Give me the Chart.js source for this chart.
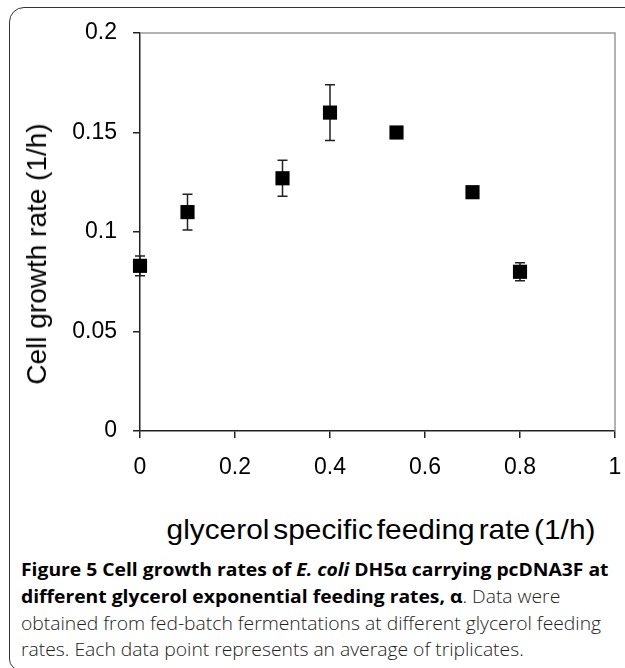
<!DOCTYPE html>
<html>
<head>
<meta charset="utf-8">
<script src="https://cdn.jsdelivr.net/npm/chart.js@4.4.1/dist/chart.umd.min.js"></script>
<style>
  html, body { margin: 0; padding: 0; background: #fff; }
  body { width: 625px; height: 668px; position: relative; overflow: hidden; }
  .frame {
    position: absolute; left: 9px; top: 7px; width: 700px; height: 664px;
    border: 1.5px solid #333; box-sizing: border-box;
    border-top-left-radius: 15px; border-bottom-left-radius: 12px;
  }
  #growth-chart { position: absolute; left: 0; top: 0; }
  .axis-title {
    position: absolute; font-family: 'Liberation Sans', Arial, sans-serif;
    font-size: 28px; line-height: 28px; color: #000; white-space: nowrap;
  }
  #y-title { left: 37px; top: 254px; transform: translate(-50%, -50%) rotate(-90deg); }
  #x-title { left: 381px; top: 516px; transform: translateX(-50%) scaleX(1.065); word-spacing: -4px; }
  .caption {
    position: absolute; left: 21px; top: 556px;
    font-family: 'Open Sans', sans-serif; font-size: 18px; line-height: 26.8px;
    color: #222; white-space: nowrap;
    transform: scaleX(1.072); transform-origin: 0 0;
  }
  .caption b { font-weight: 700; color: #000; }
  .caption .light { font-weight: 300; }
</style>
</head>
<body>
<div class="frame"></div>
<canvas id="growth-chart" width="625" height="500"></canvas>
<div class="axis-title" id="y-title">Cell growth rate (1/h)</div>
<div class="axis-title" id="x-title">glycerol specific feeding rate (1/h)</div>
<div class="caption">
  <b>Figure 5 Cell growth rates of <i>E. coli</i> DH5α carrying pcDNA3F at</b><br>
  <b>different glycerol exponential feeding rates, α</b><span class="light">. Data were</span><br>
  <span class="light">obtained from fed-batch fermentations at different glycerol feeding</span><br>
  <span class="light">rates. Each data point represents an average of triplicates.</span>
</div>
<script>
// glycerol specific feeding rate (1/h)
const feedRates = [0, 0.1, 0.3, 0.4, 0.54, 0.7, 0.8];
// cell growth rate (1/h) and error bar half-height
const growthRates = [0.083, 0.110, 0.127, 0.160, 0.150, 0.120, 0.080];
const growthErr = [0.005, 0.009, 0.009, 0.014, 0, 0, 0.0045];

const xTickLabels = ['0', '0.2', '0.4', '0.6', '0.8', '1'];
const yTickLabels = ['0', '0.05', '0.1', '0.15', '0.2'];

const AXIS_FONT = { family: "'Liberation Sans', Arial, sans-serif", size: 23 };

// error bars under the markers
const errorBars = {
  id: 'errorBars',
  beforeDatasetsDraw(chart) {
    const { ctx, scales: { x, y } } = chart;
    ctx.save();
    ctx.strokeStyle = '#222';
    ctx.lineWidth = 1.5;
    feedRates.forEach((fr, i) => {
      const e = growthErr[i];
      if (!e) return;
      const px = x.getPixelForValue(fr);
      const top = y.getPixelForValue(growthRates[i] + e);
      const bot = y.getPixelForValue(growthRates[i] - e);
      ctx.beginPath();
      ctx.moveTo(px, top); ctx.lineTo(px, bot);
      ctx.moveTo(px - 5, top); ctx.lineTo(px + 5, top);
      ctx.moveTo(px - 5, bot); ctx.lineTo(px + 5, bot);
      ctx.stroke();
    });
    ctx.restore();
  }
};

// grey top / right edge of the plot box
const plotBox = {
  id: 'plotBox',
  beforeDatasetsDraw(chart) {
    const { ctx, chartArea: a } = chart;
    ctx.save();
    ctx.strokeStyle = '#999';
    ctx.lineWidth = 1.5;
    ctx.beginPath();
    ctx.moveTo(a.left, a.top);
    ctx.lineTo(a.right, a.top);
    ctx.lineTo(a.right, a.bottom);
    ctx.stroke();
    ctx.restore();
  }
};

new Chart(document.getElementById('growth-chart'), {
  type: 'scatter',
  data: {
    datasets: [{
      data: feedRates.map((x, i) => ({ x, y: growthRates[i] })),
      pointStyle: 'rect',
      pointRadius: 10,
      pointHoverRadius: 10,
      backgroundColor: '#000',
      borderWidth: 0,
      clip: false,
    }],
  },
  options: {
    responsive: false,
    animation: false,
    devicePixelRatio: 1,
    layout: { padding: { top: 33, right: 8, left: 0, bottom: 0 } },
    plugins: { legend: { display: false }, tooltip: { enabled: false } },
    scales: {
      x: {
        type: 'linear', min: 0, max: 1,
        ticks: { stepSize: 0.2, color: '#000', font: AXIS_FONT, padding: 16,
                 callback: (v, i) => xTickLabels[i] },
        grid: { drawOnChartArea: false, tickLength: 7, color: '#222', lineWidth: 1.5 },
        border: { display: true, color: '#222', width: 1.5 },
        afterFit: s => { s.height = 500 - 431; s.paddingLeft = 0; s.paddingRight = 0; },
      },
      y: {
        type: 'linear', min: 0, max: 0.2,
        ticks: { stepSize: 0.05, color: '#000', font: AXIS_FONT, padding: 16,
                 callback: (v, i) => yTickLabels[i] },
        grid: { drawOnChartArea: false, tickLength: 7, color: '#222', lineWidth: 1.5 },
        border: { display: true, color: '#222', width: 1.5 },
        afterFit: s => { s.width = 140; },
      },
    },
  },
  plugins: [plotBox, errorBars],
});
</script>
</body>
</html>
